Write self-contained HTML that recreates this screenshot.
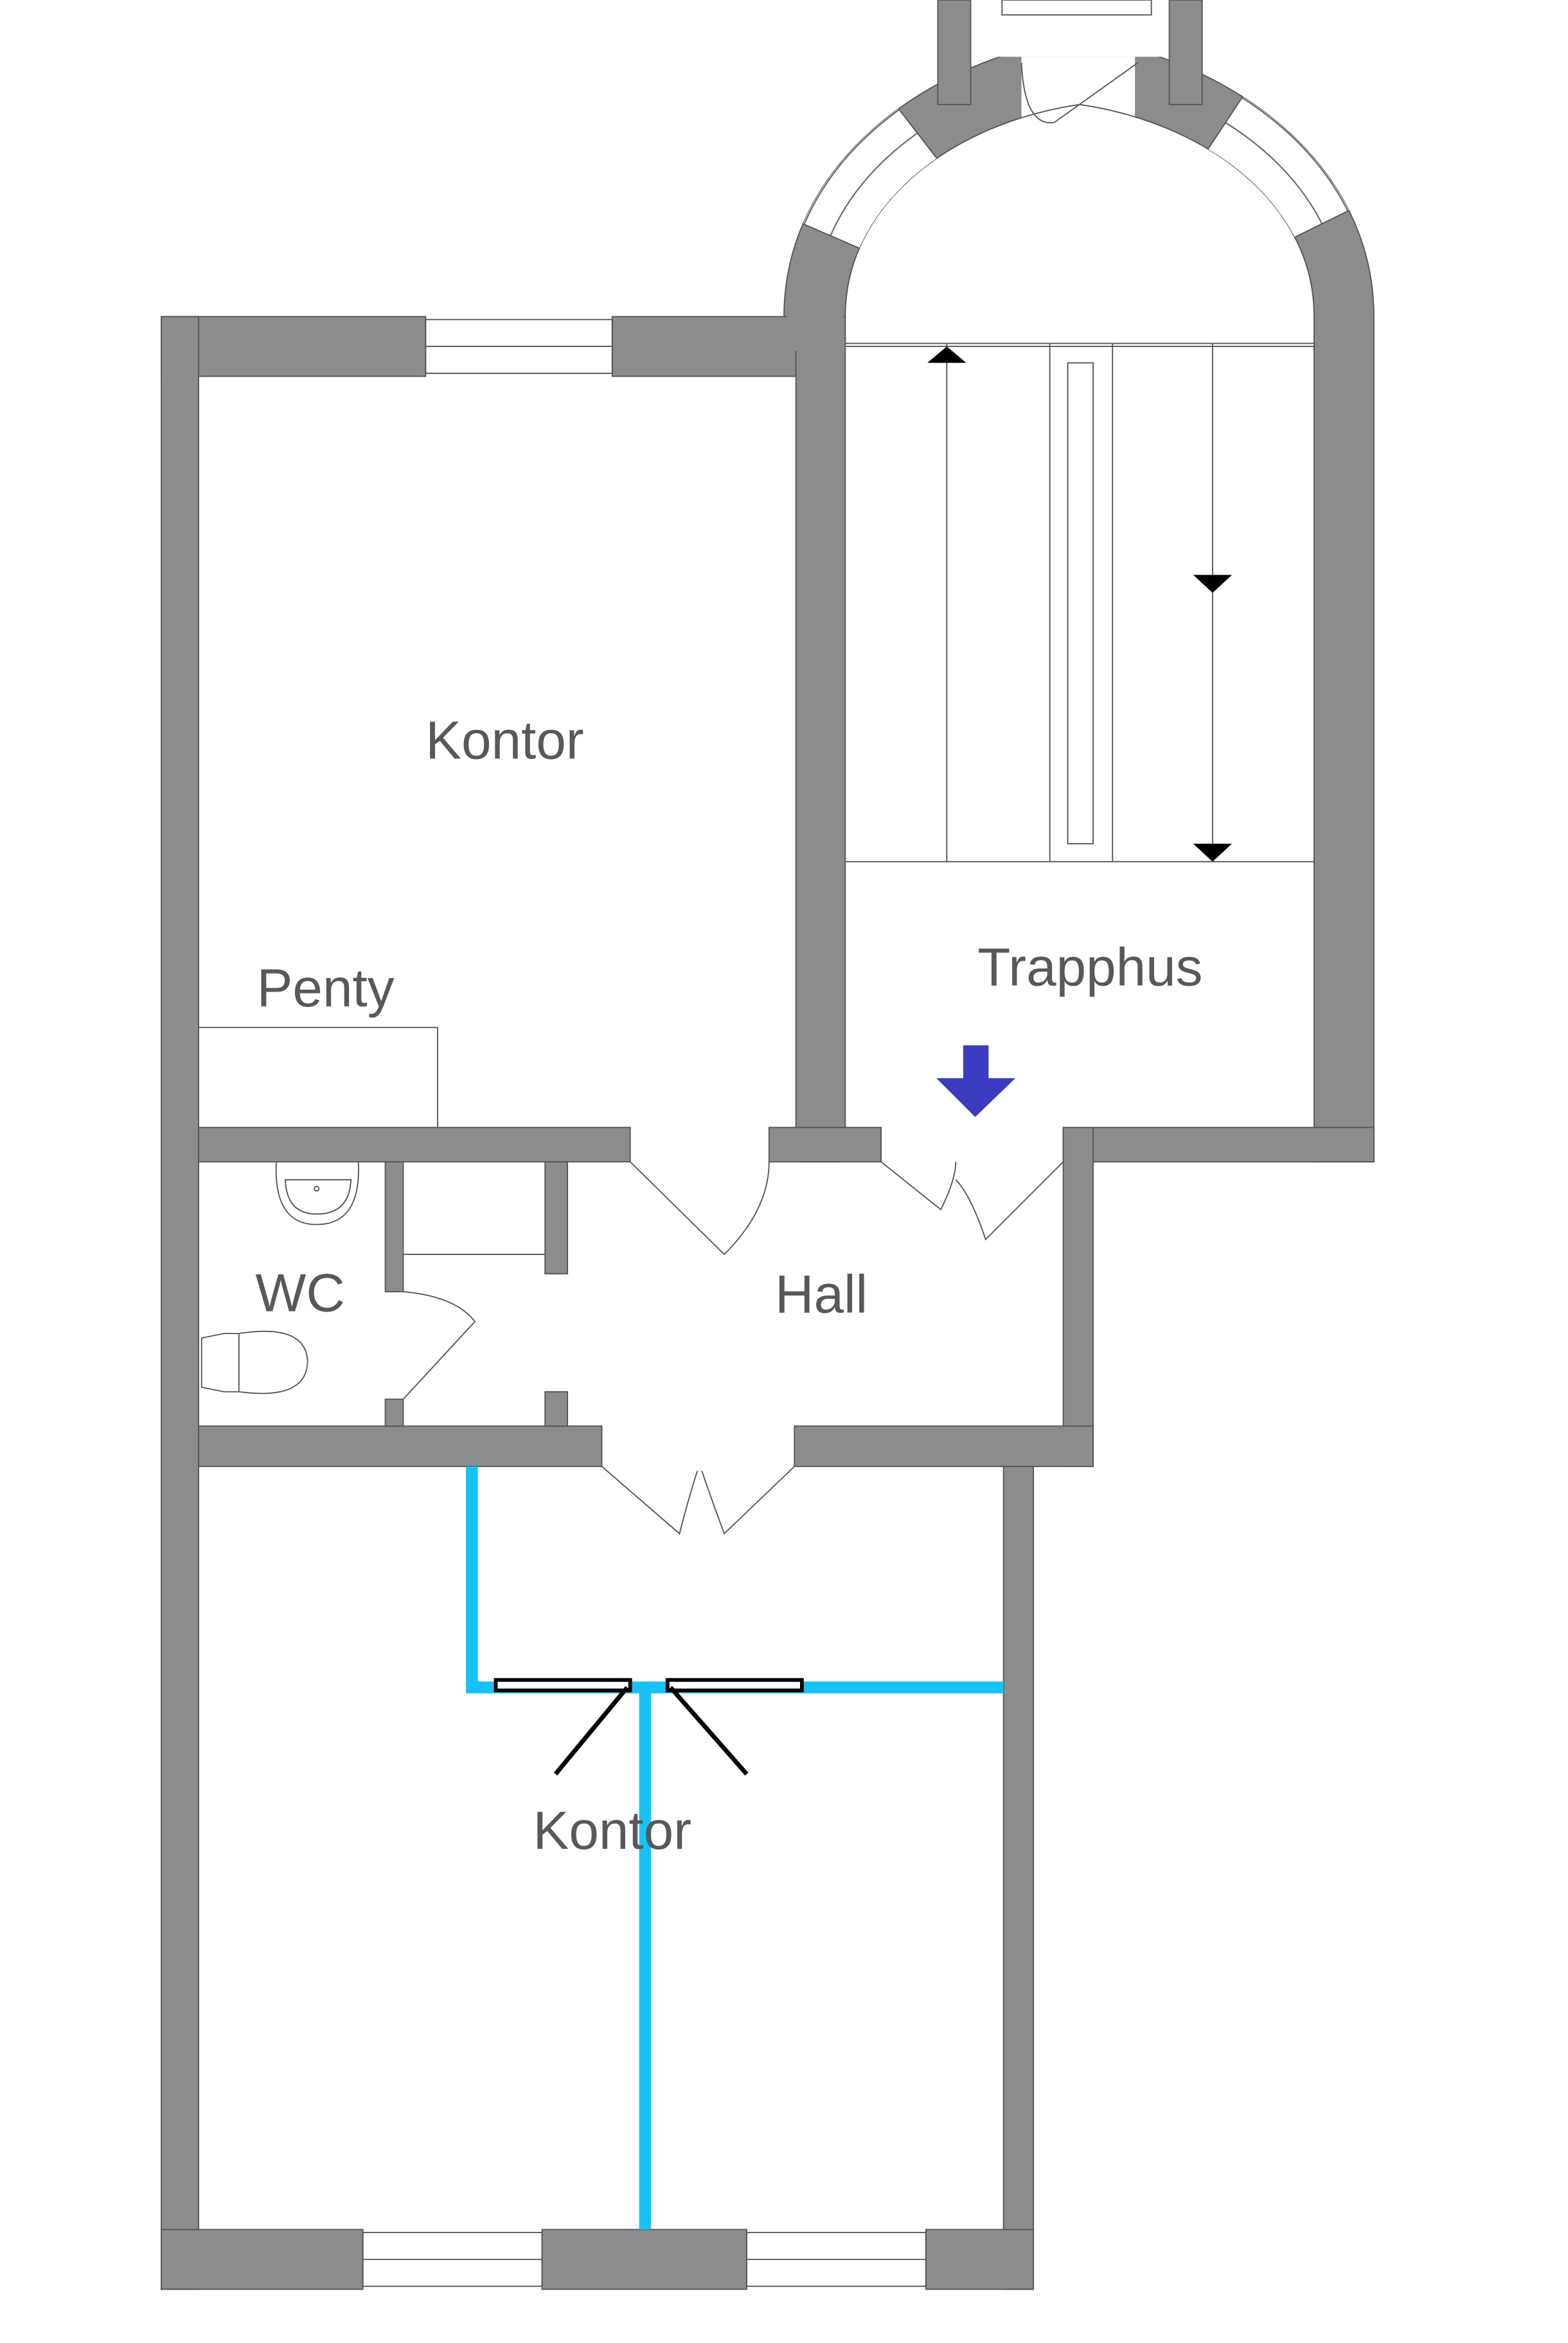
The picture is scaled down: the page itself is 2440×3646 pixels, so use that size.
<!DOCTYPE html>
<html><head><meta charset="utf-8"><style>
html,body{margin:0;padding:0;background:#fff;}
svg{display:block;}
text{font-family:"Liberation Sans",sans-serif;fill:#58585a;}
</style></head><body>
<svg width="2440" height="3646" viewBox="0 0 1050 1569" preserveAspectRatio="none" xmlns="http://www.w3.org/2000/svg">
<defs>
<clipPath id="winL"><polygon points="723,230 353,70 473,-94"/></clipPath>
<clipPath id="winR"><polygon points="723,230 1047,70 937,-94"/></clipPath>
<clipPath id="band"><path clip-rule="evenodd" d="M525,232 L525,212 C525,110 620,40 723,25 C826,40 920,110 920,212 L920,232 Z M566,232 L566,212 C566,135 640,82 723,70 C806,82 880,135 880,212 L880,232 Z"/></clipPath>
</defs>
<rect width="1050" height="1569" fill="#fff"/>
<g fill="#8b8c8e" stroke="#555" stroke-width="0.8">
<path d="M525,232 L525,212 C525,110 620,40 723,25 C826,40 920,110 920,212 L920,778 L880,778 L880,212 C880,135 806,82 723,70 C640,82 566,135 566,212 L566,232 Z"/>
<rect x="628" y="0" width="22" height="70"/>
<rect x="783" y="0" width="22" height="70"/>
</g>
<rect x="650.5" y="0" width="132" height="38" fill="#fff"/>
<polygon points="684,38 760,38 760,100 684,100" fill="#fff"/>
<path d="M566,232 L566,212 C566,135 640,82 723,70 C806,82 880,135 880,212 L880,232 Z" fill="#fff" stroke="#555" stroke-width="0.8"/>
<g clip-path="url(#band)">
<g clip-path="url(#winL)"><rect x="500" y="0" width="200" height="240" fill="#fff"/>
<path d="M545,232 L545,212 C545,122 630,61 723,47" fill="none" stroke="#666" stroke-width="0.9"/>
<path d="M526,212 C526,110 620,41 723,26" fill="none" stroke="#666" stroke-width="0.9"/></g>
<g clip-path="url(#winR)"><rect x="740" y="0" width="200" height="240" fill="#fff"/>
<path d="M900,232 L900,212 C900,122 816,61 723,47" fill="none" stroke="#666" stroke-width="0.9"/>
<path d="M919,212 C919,110 826,41 723,26" fill="none" stroke="#666" stroke-width="0.9"/></g>
</g>
<g clip-path="url(#band)" stroke="#555" stroke-width="0.8">
<line x1="723" y1="230" x2="353" y2="70"/><line x1="723" y1="230" x2="473" y2="-94"/>
<line x1="723" y1="230" x2="1047" y2="70"/><line x1="723" y1="230" x2="937" y2="-94"/>
</g>
<g fill="#8b8c8e" stroke="#555" stroke-width="0.8">
<rect x="108" y="212" width="177" height="40"/>
<rect x="410" y="212" width="123" height="40"/>
<rect x="108" y="212" width="25" height="1321"/>
<rect x="533" y="212" width="33" height="566"/>
<rect x="133" y="755" width="289" height="23"/>
<rect x="515" y="755" width="75" height="23"/>
<rect x="712" y="755" width="208" height="23"/>
<rect x="712" y="755" width="20" height="227"/>
<rect x="532" y="955" width="200" height="27"/>
<rect x="133" y="955" width="270" height="27"/>
<rect x="258" y="778" width="12" height="87"/>
<rect x="258" y="937" width="12" height="18"/>
<rect x="365" y="778" width="15" height="75"/>
<rect x="365" y="932" width="15" height="23"/>
<rect x="672" y="982" width="20" height="551"/>
<rect x="108" y="1493" width="135" height="40"/>
<rect x="363" y="1493" width="137" height="40"/>
<rect x="620" y="1493" width="72" height="40"/>
</g>
<g fill="#8b8c8e" stroke="none">
<rect x="109" y="213" width="23" height="38"/><rect x="109" y="1494" width="23" height="38"/>
<rect x="534" y="213" width="31" height="38"/><rect x="673" y="1494" width="18" height="38"/>
<rect x="713" y="756" width="18" height="21"/><rect x="881" y="756" width="38" height="21"/>
<rect x="713" y="956" width="18" height="25"/><rect x="527" y="205" width="38" height="30"/>
</g>
<g fill="none" stroke="#555" stroke-width="0.8">
<rect x="671" y="0" width="100" height="10"/>
<path d="M684,42 Q686,85 706,82 L762,42"/>
<rect x="285" y="214" width="125" height="36"/><line x1="285" y1="232" x2="410" y2="232"/>
<rect x="243" y="1495" width="120" height="36"/><line x1="243" y1="1513" x2="363" y2="1513"/>
<rect x="500" y="1495" width="120" height="36"/><line x1="500" y1="1513" x2="620" y2="1513"/>
<line x1="566" y1="230" x2="880" y2="230"/>
<line x1="566" y1="577" x2="880" y2="577"/>
<line x1="634" y1="230" x2="634" y2="577"/>
<line x1="703" y1="230" x2="703" y2="577"/>
<line x1="745" y1="230" x2="745" y2="577"/>
<line x1="812" y1="230" x2="812" y2="577"/>
<rect x="715" y="243" width="17" height="322"/>
<polyline points="133,688 293,688 293,755"/>
<line x1="270" y1="840" x2="365" y2="840"/>
<path d="M422,778 L485,840 Q515,810 515,778"/>
<path d="M590,778 L630,810 Q640,790 640,778"/>
<path d="M712,778 L660,830 Q650,800 640,790"/>
<path d="M403,982 L455,1027 Q462,1000 467,985"/>
<path d="M532,982 L485,1027 Q475,1000 470,985"/>
<path d="M270,865 Q305,868 318,885 L270,937"/>
<path d="M185,778 Q183,820 212,820 Q242,820 240,778"/>
<path d="M191,790 Q192,813 212,813 Q234,813 235,790 Z"/>
<circle cx="212" cy="796" r="1.5"/>
<path d="M135,896 L150,893 L160,893 L160,932 L150,932 L135,929 Z"/>
<path d="M160,893 Q205,886 206,912 Q205,938 160,932"/>
</g>
<polygon points="634,232 621,243 647,243" fill="#000"/>
<polygon points="812,397 799,385 825,385" fill="#000"/>
<polygon points="812,577 799,565 825,565" fill="#000"/>
<polygon points="645,700 662,700 662,722 680,722 653,748 627,722 645,722" fill="#3b3bbf"/>
<g stroke="#17c3f6" stroke-width="8" fill="none">
<polyline points="316,982 316,1130 672,1130"/>
<line x1="432" y1="1130" x2="432" y2="1493"/>
</g>
<g fill="#fff" stroke="#000" stroke-width="2.5">
<rect x="332" y="1125" width="90" height="7"/>
<rect x="447" y="1125" width="90" height="7"/>
</g>
<g stroke="#000" stroke-width="3">
<line x1="420" y1="1130" x2="372" y2="1188"/>
<line x1="449" y1="1130" x2="500" y2="1188"/>
</g>
<g font-size="36" text-anchor="middle">
<text x="338" y="508">Kontor</text>
<text x="218" y="674">Penty</text>
<text x="730" y="660">Trapphus</text>
<text x="201" y="878">WC</text>
<text x="550" y="879">Hall</text>
<text x="410" y="1238">Kontor</text>
</g>
</svg>
</body></html>
